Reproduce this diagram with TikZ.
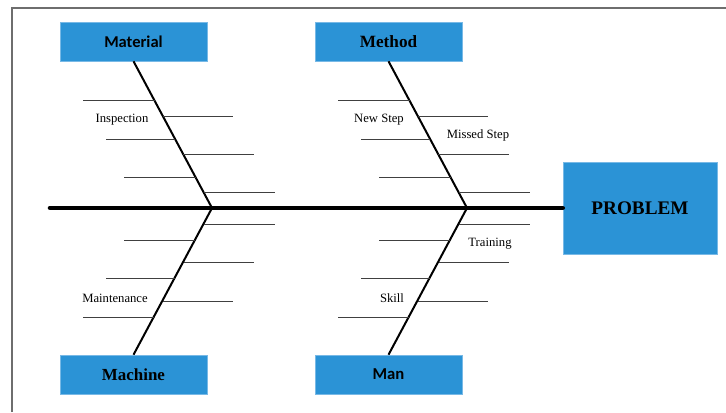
\documentclass[tikz,border=0pt]{standalone}
\usepackage{fontspec}
\setmainfont{Liberation Serif}
\newfontfamily\boxsans{Carlito}
\usepackage{tikz}
\usetikzlibrary{calc}
\definecolor{boxblue}{RGB}{43,147,214}
\definecolor{boxedge}{RGB}{120,185,230}
\definecolor{framegray}{RGB}{110,110,110}
\tikzset{
	catbox/.style={fill=boxblue, draw=boxedge, line width=0.4pt, minimum width=110.25pt, minimum height=29.25pt, inner sep=0pt},
	bone/.style={line width=1.5pt, color=black},
	spine/.style={line width=3.4pt, color=black, line cap=round},
	rib/.style={line width=0.7pt, color=black!75},
	ribtext/.style={font=\fontsize{9.5}{11}\selectfont, inner sep=1pt}
}

\begin{document}
\begin{tikzpicture}[x=0.75pt, y=-0.75pt]
		%%%%% START %%%%%
		\useasboundingbox (0, 0) rectangle (726, 412);
		\draw[line width=1.1pt, color=framegray] (12, 412) -- (12, 8) -- (726, 8);
		
		\node[catbox] (material) at (133.5, 41.5) {\boxsans\fontsize{12.4}{14}\selectfont\bfseries Material};
		\node[catbox] (method) at (388.5, 41.5) {\fontsize{12.9}{14}\selectfont\bfseries Method};
		\node[catbox] (machine) at (133.5, 374.5) {\fontsize{12.7}{14}\selectfont\bfseries Machine};
		\node[catbox] (man) at (388.5, 374.5) {\boxsans\fontsize{12.5}{14}\selectfont\bfseries Man};
		\node[catbox, minimum width=115.5pt, minimum height=69pt] (problem) at (640, 208) {\fontsize{14.4}{16}\selectfont\bfseries PROBLEM};
		
		\coordinate (tail) at (50, 208);
		\coordinate (joinA) at (212, 208);
		\coordinate (joinB) at (467, 208);
		
		\draw[spine] (tail) -- (problem.west);
		\draw[bone] (material.south) -- (joinA);
		\draw[bone] (joinA) -- (machine.north);
		\draw[bone] (method.south) -- (joinB);
		\draw[bone] (joinB) -- (man.north);
		
		% material ribs
		\draw[rib] (83, 100) -- (154.7, 100);
		\draw[rib] (163.2, 116) -- (233, 116);
		\draw[rib] (106, 139) -- (175.4, 139);
		\draw[rib] (183.3, 154) -- (254, 154);
		\draw[rib] (124, 177) -- (195.6, 177);
		\draw[rib] (203.5, 192) -- (275, 192);
		
		% machine ribs
		\draw[rib] (203.6, 224) -- (275, 224);
		\draw[rib] (124, 240) -- (195.1, 240);
		\draw[rib] (183.5, 262) -- (254, 262);
		\draw[rib] (106, 278) -- (175.1, 278);
		\draw[rib] (163, 301) -- (233, 301);
		\draw[rib] (83, 317) -- (154.6, 317);
		
		% method ribs
		\draw[rib] (338, 100) -- (409.7, 100);
		\draw[rib] (418.2, 116) -- (488, 116);
		\draw[rib] (361, 139) -- (430.4, 139);
		\draw[rib] (438.3, 154) -- (509, 154);
		\draw[rib] (379, 177) -- (450.6, 177);
		\draw[rib] (458.5, 192) -- (530, 192);
		
		% man ribs
		\draw[rib] (458.6, 224) -- (530, 224);
		\draw[rib] (379, 240) -- (450.1, 240);
		\draw[rib] (438.5, 262) -- (509, 262);
		\draw[rib] (361, 278) -- (430.1, 278);
		\draw[rib] (418, 301) -- (488, 301);
		\draw[rib] (338, 317) -- (409.6, 317);
		
		\node[ribtext] (inspection) at (122, 120) {Inspection};
		\node[ribtext] (newstep) at (379, 120) {New Step};
		\node[ribtext] (missedstep) at (478, 135) {Missed Step};
		\node[ribtext] (training) at (490, 244) {Training};
		\node[ribtext] (maintenance) at (115, 298) {Maintenance};
		\node[ribtext] (skill) at (392, 298) {Skill};
		
		%%%%% END %%%%%
	\end{tikzpicture}
\end{document}
